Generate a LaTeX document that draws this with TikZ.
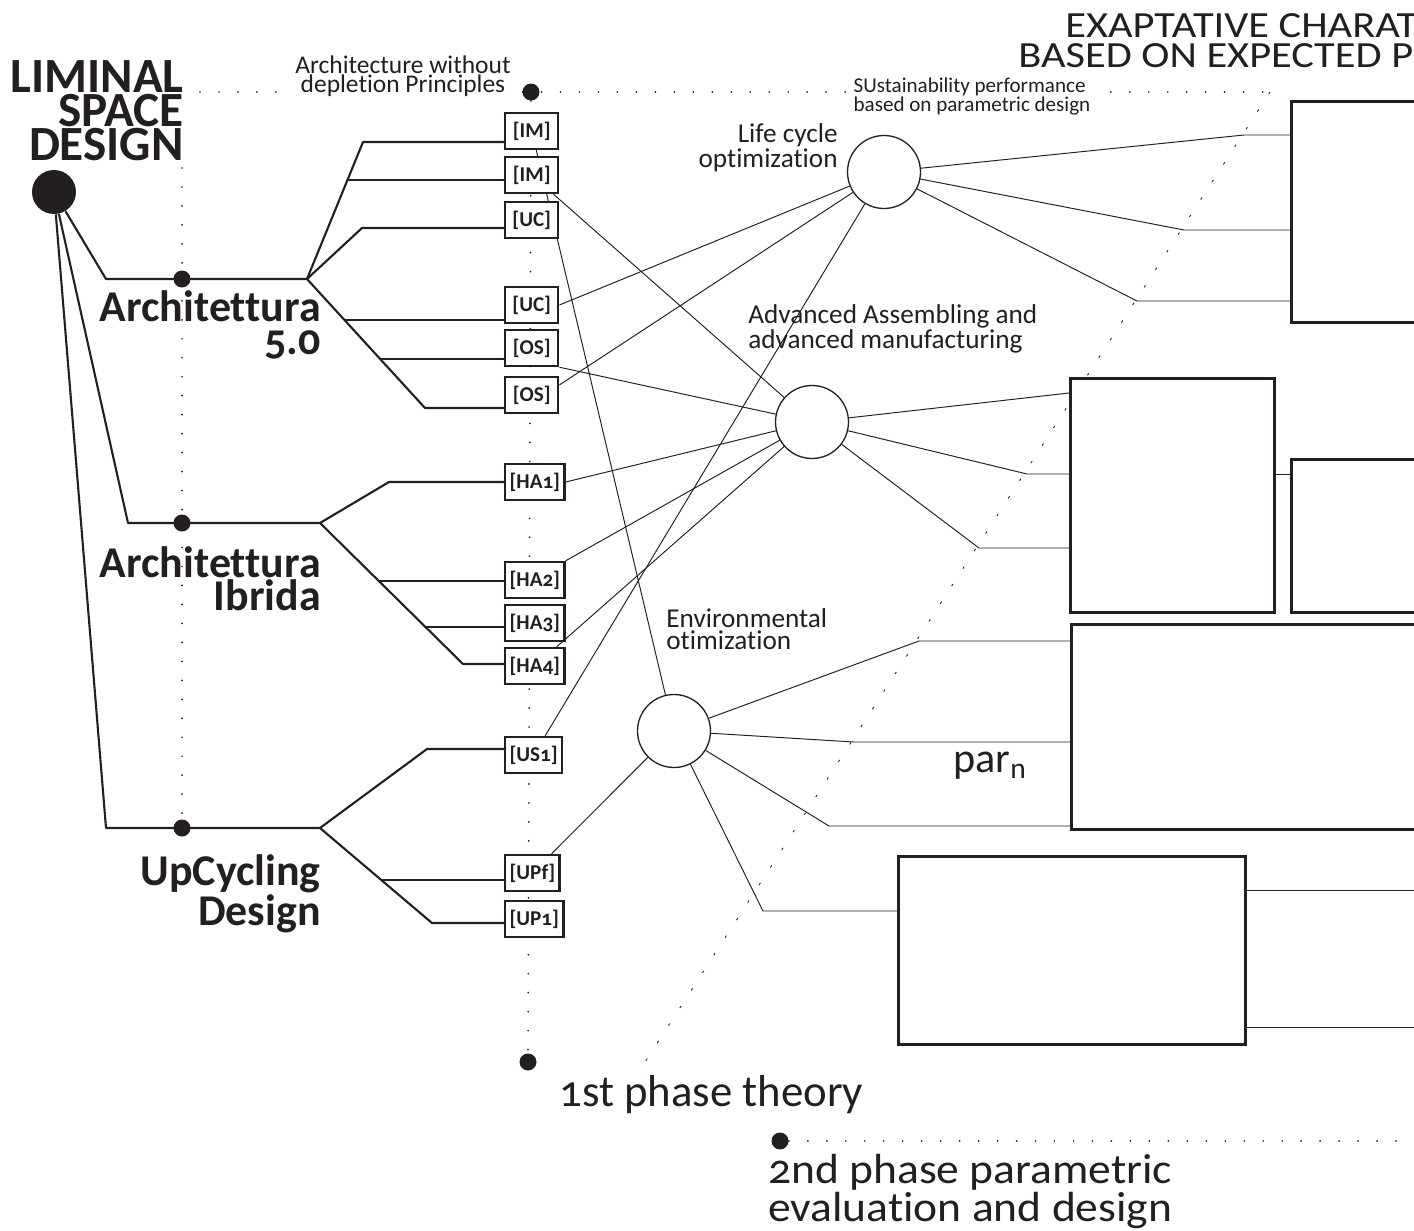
\documentclass[tikz,border=0pt]{standalone}
\usepackage{fontspec}
\setmainfont{Carlito}[Numbers=OldStyle,Ligatures=NoCommon]
\newfontfamily\headfont{Carlito}[Numbers=OldStyle,Ligatures=NoCommon,FakeStretch=1.15]
\newfontfamily\phasefont{Carlito}[Numbers=OldStyle,Ligatures=NoCommon,FakeStretch=1.08]
\usepackage{tikz}
\usetikzlibrary{calc,backgrounds}
\definecolor{INK}{HTML}{231F20}

\begin{document}
\begin{tikzpicture}[x=0.02cm,y=-0.02cm]
\tikzset{tree/.style={line width=1.2pt,INK,line join=round},cn/.style={line width=0.55pt,INK},
 tag/.style={draw=INK,line width=1.4pt,fill=white,anchor=west,inner xsep=2.5pt,inner ysep=0pt,
  minimum width=1.06cm,minimum height=0.72cm,text=INK,font=\bfseries\fontsize{12pt}{13pt}\selectfont},
 ring/.style={circle,draw=INK,line width=0.75pt,minimum size=1.46cm,inner sep=0pt},
 bx/.style={draw=INK,line width=1.5pt,fill=white,anchor=north west,inner sep=0pt},
 pt/.style={circle,fill=INK,inner sep=0pt,minimum size=0.34cm},
 bigpt/.style={circle,fill=INK,inner sep=0pt,minimum size=0.88cm},
 dotl/.style={INK,line width=1.1pt,line cap=round,dash pattern=on 0pt off 10.8pt},
 diagl/.style={INK,line width=0.5pt,dash pattern=on 1.4pt off 10.5pt},
 lbl/.style={inner sep=0pt,text=INK}}
\useasboundingbox (0,0) rectangle (1414,1231);
\clip (0,0) rectangle (1414,1231);
% titles and labels
\node[lbl,font=\bfseries\fontsize{28pt}{19.3pt}\selectfont,align=right,anchor=north east] (title) at (184,60) {LIMINAL\\SPACE\\DESIGN};
\node[lbl,font=\bfseries\fontsize{25pt}{18.7pt}\selectfont,align=right,anchor=north east] (lbl5) at (321,290) {Architettura\\5.0};
\node[lbl,font=\bfseries\fontsize{25pt}{18.7pt}\selectfont,align=right,anchor=north east] (lblIb) at (321,546) {Architettura\\Ibrida};
\node[lbl,font=\bfseries\fontsize{25pt}{18.7pt}\selectfont,align=right,anchor=north east] (lblUp) at (321,854) {UpCycling\\Design};
\node[lbl,font=\fontsize{14.5pt}{11.3pt}\selectfont,align=center,anchor=north,fill=white,inner xsep=4pt] (adp) at (403,55) {Architecture without\\depletion Principles};
\node[lbl,font=\fontsize{12pt}{10.8pt}\selectfont,align=left,anchor=north west,fill=white,inner xsep=3pt] (sus) at (848,78) {SUstainability performance\\based on parametric design};
\node[lbl,font=\headfont\fontsize{21pt}{17pt}\selectfont,anchor=base west] (head1) at (1065,37) {EXAPTATIVE CHARAT};
\node[lbl,font=\headfont\fontsize{21pt}{17pt}\selectfont,anchor=base west] (head2) at (1018,67) {BASED ON EXPECTED P};
\node[lbl,font=\fontsize{15.5pt}{11.9pt}\selectfont,align=right,anchor=north east] (lcl) at (838,123) {Life cycle\\optimization};
\node[lbl,font=\fontsize{15.5pt}{13pt}\selectfont,align=left,anchor=north west] (advl) at (748,304) {Advanced Assembling and\\advanced manufacturing};
\node[lbl,font=\fontsize{15.5pt}{12.5pt}\selectfont,align=left,anchor=north west] (envl) at (666,608) {Environmental\\otimization};
\node[lbl,font=\fontsize{24pt}{24pt}\selectfont,anchor=base west] (parn) at (953,772) {par\textsubscript{n}};
\node[lbl,font=\fontsize{25.5pt}{25pt}\selectfont,anchor=base west] (ph1) at (559,1106) {1st phase theory};
\node[lbl,font=\phasefont\fontsize{24pt}{17.8pt}\selectfont,align=left,anchor=north west] (ph2) at (768,1154) {2nd phase parametric\\evaluation and design};
% dots
\node[bigpt] (liminal) at (54,192) {};
\node[pt] (h5) at (182,279) {};
\node[pt] (hIb) at (182,523) {};
\node[pt] (hUp) at (182,828) {};
\node[pt] (dtop) at (531,92) {};
\node[pt] (d1st) at (528,1062) {};
\node[pt] (d2nd) at (780,1141) {};
% tags
\node[tag] (im1) at (504,131) {[IM]};
\node[tag] (im2) at (504,175) {[IM]};
\node[tag] (uc1) at (504,220) {[UC]};
\node[tag] (uc2) at (504,305) {[UC]};
\node[tag] (os1) at (504,348) {[OS]};
\node[tag] (os2) at (504,395) {[OS]};
\node[tag] (ha1) at (504,482) {[HA1]};
\node[tag] (ha2) at (504,580) {[HA2]};
\node[tag] (ha3) at (504,623) {[HA3]};
\node[tag] (ha4) at (504,666) {[HA4]};
\node[tag] (us1) at (504,755) {[US1]};
\node[tag] (upf) at (504,873) {[UPf]};
\node[tag] (up1) at (504,919) {[UP1]};
% circles and boxes
\node[ring] (lc) at (884,172) {};
\node[ring] (adv) at (812,422) {};
\node[ring] (env) at (674,731) {};
\node[bx,minimum width=6cm,minimum height=4.42cm] (boxA) at (1290,100) {};
\node[bx,minimum width=4.08cm,minimum height=4.68cm] (boxB) at (1069,377) {};
\node[bx,minimum width=6cm,minimum height=3.06cm] (boxC) at (1290,458) {};
\node[bx,minimum width=8cm,minimum height=4.1cm] (boxD) at (1070,623) {};
\node[bx,minimum width=6.94cm,minimum height=3.76cm] (boxE) at (897,855) {};
% bends
\coordinate (a5L) at (106,279); \coordinate (a5) at (307,279);
\coordinate (k51) at (363,142); \coordinate (k52) at (348,180); \coordinate (k53) at (362,228);
\coordinate (k54) at (344.5,320); \coordinate (k55) at (380,359); \coordinate (k56) at (425,408);
\coordinate (ibL) at (128,523); \coordinate (ib) at (320,523);
\coordinate (kI1) at (389,482); \coordinate (kI2) at (379,581); \coordinate (kI3) at (425.5,627); \coordinate (kI4) at (463,664);
\coordinate (upL) at (106,828); \coordinate (up) at (320,828);
\coordinate (kU1) at (427,749); \coordinate (kU2) at (381,880); \coordinate (kU3) at (432,923);
\coordinate (lcA1) at (1244,135); \coordinate (lcA2) at (1184,230); \coordinate (lcA3) at (1137,301);
\coordinate (advK2) at (1027,474); \coordinate (advK3) at (979,548);
\coordinate (envK1) at (919,641); \coordinate (envK2) at (854,742); \coordinate (envK3) at (829,826); \coordinate (envK4) at (763,911);
\coordinate (outE1) at (1414,890); \coordinate (outE2) at (1414,1027);
\coordinate (topL) at (200,92); \coordinate (topR) at (1270,92); \coordinate (diagE) at (645,1062);
\coordinate (v1) at (182,168); \coordinate (botR) at (1414,1141);
\begin{scope}[on background layer]
\draw[dotl] (topL) -- (topR);
\draw[diagl] (topR) -- (diagE);
\draw[dotl] (v1) -- (hUp);
\draw[dotl] (dtop) -- (d1st);
\draw[dotl] (d2nd) -- (botR);
% tree
\draw[tree] (liminal) -- (a5L) -- (a5);
\draw[tree] (a5) -- (k51) -- (k51 -| im1.west);
\draw[tree] (k52) -- (k52 -| im2.west);
\draw[tree] (a5) -- (k53) -- (k53 -| uc1.west);
\draw[tree] (a5) -- (k56) -- (k56 -| os2.west);
\draw[tree] (k54) -- (k54 -| uc2.west);
\draw[tree] (k55) -- (k55 -| os1.west);
\draw[tree] (liminal) -- (ibL) -- (ib);
\draw[tree] (ib) -- (kI1) -- (kI1 -| ha1.west);
\draw[tree] (ib) -- (kI4) -- (kI4 -| ha4.west);
\draw[tree] (kI2) -- (kI2 -| ha2.west);
\draw[tree] (kI3) -- (kI3 -| ha3.west);
\draw[tree] (liminal) -- (upL) -- (up);
\draw[tree] (up) -- (kU1) -- (kU1 -| us1.west);
\draw[tree] (up) -- (kU3) -- (kU3 -| up1.west);
\draw[tree] (kU2) -- (kU2 -| upf.west);
% tags to circles
\draw[cn] (im1) -- (env);
\draw[cn] (im2) -- (adv);
\draw[cn] (uc2.east) -- (lc);
\draw[cn] (os1.south east) -- (adv);
\draw[cn] (os2.20) -- (lc);
\draw[cn] (ha1.east) -- (adv);
\draw[cn] (ha2.north east) -- (adv);
\draw[cn] (ha4) -- (adv);
\draw[cn] (us1) -- (lc);
\draw[cn] (upf) -- (env);
% circles to boxes
\draw[cn] (lc) -- (lcA1) -- (lcA1 -| boxA.west);
\draw[cn] (lc) -- (lcA2) -- (lcA2 -| boxA.west);
\draw[cn] (lc) -- (lcA3) -- (lcA3 -| boxA.west);
\draw[cn] (adv) -- ($(boxB.north west)+(0,16)$);
\draw[cn] (adv) -- (advK2) -- (advK2 -| boxB.west);
\draw[cn] (adv) -- (advK3) -- (advK3 -| boxB.west);
\draw[cn] (advK2 -| boxB.east) -- (advK2 -| boxC.west);
\draw[cn] (env) -- (envK1) -- (envK1 -| boxD.west);
\draw[cn] (env) -- (envK2) -- (envK2 -| boxD.west);
\draw[cn] (env) -- (envK3) -- (envK3 -| boxD.west);
\draw[cn] (env) -- (envK4) -- (envK4 -| boxE.west);
\draw[cn] (outE1 -| boxE.east) -- (outE1);
\draw[cn] (outE2 -| boxE.east) -- (outE2);
\end{scope}
\end{tikzpicture}
\end{document}
